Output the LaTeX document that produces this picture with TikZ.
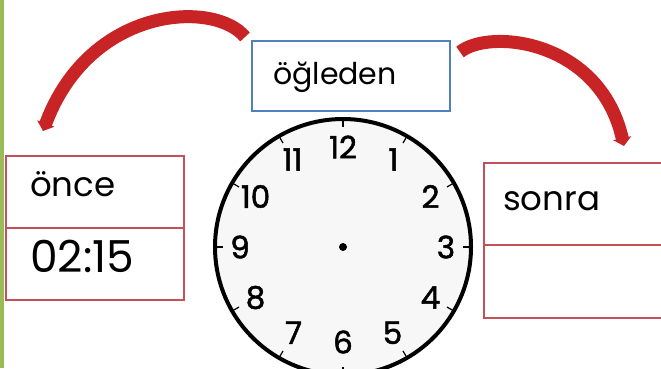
\documentclass[tikz,border=0pt]{standalone}
\usepackage{fontspec}
\setmainfont{Poppins}
\newfontfamily\numfont[FakeBold=1.6]{Poppins}
\usetikzlibrary{arrows.meta,calc}
\definecolor{arrred}{RGB}{200,36,38}
\definecolor{boxred}{RGB}{196,80,90}
\definecolor{boxblue}{RGB}{79,129,189}
\definecolor{leafgreen}{RGB}{155,187,89}
\begin{document}
\begin{tikzpicture}[x=1pt,y=-1pt,
  cell/.style={draw=boxred, line width=2pt, anchor=north west, inner sep=0pt},
  bluebox/.style={draw=boxblue, line width=2pt, anchor=north west, inner sep=0pt},
  lbl/.style={anchor=base west, inner sep=0pt, text=black},
  bigarrow/.style={draw=arrred, line width=13pt, -{Triangle[length=8pt,width=18pt]}},
  num/.style={font=\numfont\fontsize{31}{31}\selectfont, inner sep=0pt}]
\useasboundingbox (0,0) rectangle (661,368);
\clip (0,0) rectangle (661,368);
\fill[leafgreen] (0,0) rectangle (4,368);
\node[bluebox, minimum width=198pt, minimum height=70pt] (ogl) at (251,40) {};
\node[cell, minimum width=178pt, minimum height=72pt] (once) at (5,155) {};
\node[cell, minimum width=178pt, minimum height=72pt] (time) at (5,227) {};
\node[cell, minimum width=182pt, minimum height=82pt] (sonra) at (483,162) {};
\node[cell, minimum width=182pt, minimum height=73pt] (blank) at (483,244) {};
\node[lbl, font=\fontsize{30}{30}\selectfont] (t1) at (273,84) {öğleden};
\node[lbl, font=\fontsize{34}{34}\selectfont] (t2) at (30,196) {önce};
\node[lbl, font=\fontsize{44}{44}\selectfont] (t3) at (30,272) {02:15};
\node[lbl, font=\fontsize{34}{34}\selectfont] (t4) at (503,210) {sonra};
\coordinate (c) at (343,247);
\node[circle, draw=black, line width=4pt, fill=black!3, minimum size=256pt, inner sep=0pt] (clock) at (c) {};
\fill (c) circle (4pt);
\foreach \h/\r in {1/101,2/101,3/103,4/101,5/99,6/95,7/99,8/101,9/103,10/101,11/101,12/100} {
  \draw[line width=1.2pt] ($(c)+(30*\h-90:128)$) -- ($(c)+(30*\h-90:120)$);
  \node[num] (n\h) at ($(c)+(30*\h-90:\r)$) {\h};
}
\coordinate (a1s) at ($(ogl.north west)+(-6,-3)$);
\coordinate (a1e) at ($(once.north west)+(38,-24)$);
\coordinate (a2s) at ($(ogl.north east)+(9,12)$);
\coordinate (a2e) at ($(sonra.north west)+(141,-16)$);
\draw[bigarrow] (a1s) .. controls (215,0) and (90,5) .. (a1e);
\draw[bigarrow] (a2s) .. controls (490,28) and (600,40) .. (a2e);
\end{tikzpicture}
\end{document}
